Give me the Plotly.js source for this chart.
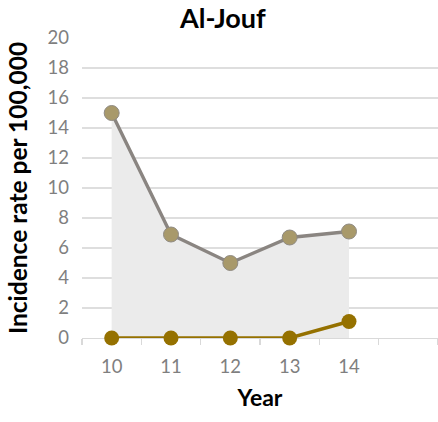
<!DOCTYPE html>
<html>
<head>
<meta charset="utf-8">
<script src="https://cdn.plot.ly/plotly-3.0.1.min.js"></script>
<style>
  html, body { margin: 0; padding: 0; background: #ffffff; }
  #chart { width: 438px; height: 422px; }
</style>
</head>
<body>
<div id="chart"></div>
<script>
// Incidence per 100,000 in Al-Jouf by year
const years = [10, 11, 12, 13, 14];
const yearLabels = ['10', '11', '12', '13', '14'];
const seriesUpper = [15.0, 6.9, 5.0, 6.7, 7.1];
const seriesLower = [0, 0, 0, 0, 1.1];
const yTicks = [0, 2, 4, 6, 8, 10, 12, 14, 16, 18, 20];

const FONT = 'Lato, "Open Sans", "DejaVu Sans", sans-serif';

const traces = [
  {
    x: years, y: seriesUpper, type: 'scatter', mode: 'lines+markers',
    fill: 'tozeroy', fillcolor: '#ebebeb',
    line: { color: '#8a8581', width: 3.4 },
    marker: { size: 15, color: '#a8996a', line: { color: '#8f8a82', width: 1 } },
    cliponaxis: false, hoverinfo: 'skip'
  },
  {
    x: years, y: seriesLower, type: 'scatter', mode: 'lines+markers',
    line: { color: '#957100', width: 3.4 },
    marker: { size: 15, color: '#957100' },
    cliponaxis: false, hoverinfo: 'skip'
  }
];

const layout = {
  width: 438, height: 422,
  margin: { l: 82, r: 0, t: 38, b: 84 },
  paper_bgcolor: '#ffffff', plot_bgcolor: '#ffffff',
  showlegend: false,
  font: { family: FONT, color: '#7f7f7f' },
  title: {
    text: '<b>Al-Jouf</b>',
    font: { family: FONT, size: 27, color: '#000000' },
    x: 0.509, xref: 'container', xanchor: 'center',
    y: 22, yref: 'container', yanchor: 'middle'
  },
  xaxis: {
    type: 'linear', range: [9.5, 15.5], layer: 'below traces',
    tickvals: years, ticktext: yearLabels, ticks: '',
    tickfont: { family: FONT, size: 18.5, color: '#7f7f7f' },
    ticklabelstandoff: 11,
    showgrid: false, zeroline: false,
    showline: true, linecolor: '#d9d9d9', linewidth: 1.3,
    minor: { ticks: 'outside', tick0: 9.5, dtick: 1, ticklen: 6, tickcolor: '#d9d9d9', tickwidth: 1.3, showgrid: false },
    title: { text: '<b>Year</b>', font: { family: FONT, size: 23, color: '#000000' }, standoff: 14 },
    fixedrange: true
  },
  yaxis: {
    range: [0, 20], tickvals: yTicks, layer: 'below traces',
    tickfont: { family: FONT, size: 18.5, color: '#7f7f7f' },
    ticklabelstandoff: 12,
    showgrid: true, gridcolor: '#dedede', gridwidth: 1.3,
    zeroline: false, showline: false, ticks: '',
    title: { text: '<b>Incidence rate per 100,000</b>', font: { family: FONT, size: 24.5, color: '#000000' }, standoff: 12 },
    fixedrange: true
  }
};

Plotly.newPlot('chart', traces, layout, { staticPlot: true, displayModeBar: false });
</script>
</body>
</html>
